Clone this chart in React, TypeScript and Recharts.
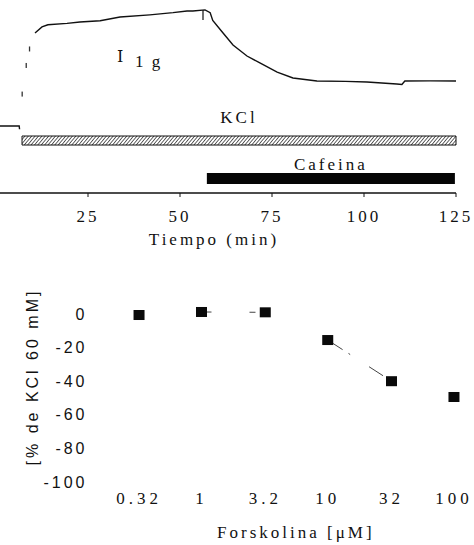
import {
  ComposedChart,
  Label,
  Line,
  ReferenceArea,
  ReferenceLine,
  Scatter,
  XAxis,
  YAxis,
} from 'recharts';

// Panel superior: registro de tension (g) frente al tiempo (min)
const BASAL_T = [0, 6.3, 6.4];
const BASAL_G = [0, 0, -0.3];
// la subida rapida solo deja unas marcas sueltas en el registro
const SUBIDA_T = [7.1, 8.2, 9.1];
const SUBIDA_G = [2.9, 5.5, 7.0];
const TRAZO_T = [
  10.6, 12.5, 14.1, 19.3, 22.8, 28.3, 33.7, 41.8, 48.1, 51.9, 53.5, 56.8, 58.2, 58.9, 61.7, 64.4,
  68.2, 71.7, 76.4, 80.7, 87.2, 95, 100.8, 108.9, 110.3, 111.1, 118, 125,
];
const TRAZO_G = [
  8.45, 9.0, 9.2, 9.33, 9.45, 9.57, 9.9, 10.1, 10.3, 10.45, 10.45, 10.55, 10.3, 9.6, 8.45, 7.36,
  6.36, 5.73, 4.9, 4.36, 4.09, 4.05, 4.0, 3.82, 3.77, 4.09, 4.1, 4.09,
];
const MARCA_T = 56.25;
const MARCA_G = [10.55, 9.64];

const KCL_T = [7.07, 125];
const KCL_G = [-0.91, -1.73];
const CAFEINA_T = [57.3, 124.7];
const CAFEINA_G = [-4.27, -5.27];

const TIEMPO_TICKS = [0, 25, 50, 75, 100, 125];

// Panel inferior: respuesta a forskolina
const CONC = [0.32, 1, 3.2, 10, 32, 100];
const RESP = [-0.6, 1.2, 1.0, -15.5, -40, -49.4];
const RESP_TICKS = [0, -20, -40, -60, -80, -100];

const SERIF = '"Liberation Serif", "DejaVu Serif", serif';
const SANS = '"Liberation Sans", Arial, sans-serif';

const toSeries = (ts: number[], gs: number[]) => ts.map((t, i) => ({ t, g: gs[i] }));

// basal y trazo en una sola serie, con un hueco (null) donde el registro se pierde
const registro = [
  ...toSeries(BASAL_T, BASAL_G),
  { t: (BASAL_T[BASAL_T.length - 1] + TRAZO_T[0]) / 2, g: null },
  ...toSeries(TRAZO_T, TRAZO_G),
];
const subida = toSeries(SUBIDA_T, SUBIDA_G);

const puntos = CONC.map((conc, i) => ({ conc, resp: RESP[i] }));
const tramoA = puntos.slice(1, 3);
const tramoB = puntos.slice(3, 5);

const serifText = { fontFamily: SERIF, fontSize: 17, fill: '#111', letterSpacing: 3 };

function Cuadro(props: any) {
  const { cx, cy } = props;
  if (cx == null || cy == null) return null;
  return <rect x={cx - 5.5} y={cy - 5} width={11} height={10} fill="#0a0a0a" />;
}

function Marca(props: any) {
  const { cx, cy } = props;
  if (cx == null || cy == null) return null;
  return <rect x={cx - 0.6} y={cy - 2.5} width={1.3} height={5} fill="#333" />;
}

export default function App() {
  return (
    <div
      style={{
        position: 'absolute',
        left: 0,
        top: 0,
        width: 474,
        height: 545,
        overflow: 'hidden',
        background: '#fff',
      }}
    >
      <div style={{ position: 'absolute', left: -4, top: 0 }}>
        <ComposedChart width={478} height={255} margin={{ top: 0, right: 18, bottom: 0, left: 0 }}>
          <defs>
            <pattern id="rayado" width="2.6" height="2.6" patternUnits="userSpaceOnUse" patternTransform="rotate(40)">
              <line x1="0" y1="0" x2="0" y2="2.6" stroke="#1a1a1a" strokeWidth="1.35" />
            </pattern>
          </defs>
          <XAxis
            dataKey="t"
            type="number"
            domain={[0, 125]}
            ticks={TIEMPO_TICKS}
            height={62}
            axisLine={{ stroke: '#111', strokeWidth: 1.3 }}
            tickLine={{ stroke: '#111' }}
            tickSize={4}
            tickMargin={13}
            tick={serifText}
          >
            <Label value="Tiempo (min)" position="insideBottom" offset={10} dx={-12} style={serifText} />
          </XAxis>
          <YAxis type="number" domain={[-6.09, 11.45]} hide />
          <ReferenceArea
            x1={KCL_T[0]}
            x2={KCL_T[1]}
            y1={KCL_G[0]}
            y2={KCL_G[1]}
            fill="url(#rayado)"
            fillOpacity={1}
            stroke="#111"
            strokeWidth={1}
          >
            <Label value="KCl" position="top" offset={13} style={serifText} />
          </ReferenceArea>
          <ReferenceArea
            x1={CAFEINA_T[0]}
            x2={CAFEINA_T[1]}
            y1={CAFEINA_G[0]}
            y2={CAFEINA_G[1]}
            fill="#050505"
            fillOpacity={1}
          >
            <Label value="Cafeina" position="top" offset={3} style={serifText} />
          </ReferenceArea>
          <ReferenceLine
            segment={[
              { x: MARCA_T, y: MARCA_G[0] },
              { x: MARCA_T, y: MARCA_G[1] },
            ]}
            stroke="#111"
            strokeWidth={1.2}
          />
          <Scatter data={subida} dataKey="g" shape={Marca} isAnimationActive={false} />
          <Line
            data={registro}
            dataKey="g"
            stroke="#111"
            strokeWidth={1.4}
            dot={false}
            activeDot={false}
            connectNulls={false}
            isAnimationActive={false}
          />
        </ComposedChart>
      </div>

      <div
        style={{
          position: 'absolute',
          left: 33,
          top: 377,
          transform: 'translate(-50%, -50%) rotate(-90deg)',
          whiteSpace: 'nowrap',
          fontFamily: SANS,
          fontSize: 16,
          letterSpacing: 3,
          color: '#111',
        }}
      >
        [% de KCl 60 mM]
      </div>

      <div style={{ position: 'absolute', left: 117, top: 47, fontFamily: '"DejaVu Serif", serif', fontSize: 16, color: '#111' }}>
        I
      </div>
      <div
        style={{
          position: 'absolute',
          left: 135,
          top: 52,
          fontFamily: SERIF,
          fontSize: 17,
          letterSpacing: 2,
          color: '#111',
          whiteSpace: 'pre',
        }}
      >
        1 g
      </div>

      <div style={{ position: 'absolute', left: 0, top: 290 }}>
        <ComposedChart width={474} height={255} margin={{ top: 7.2, right: 7.8, bottom: 0, left: 25.5 }}>
          <XAxis
            dataKey="conc"
            type="number"
            scale="log"
            domain={[0.25, 125]}
            ticks={CONC}
            allowDataOverflow
            height={63}
            axisLine={false}
            tickLine={false}
            tickSize={4}
            tickMargin={6}
            tick={{ ...serifText, letterSpacing: 4 }}
          >
            <Label value="Forskolina [μM]" position="insideBottom" offset={7} style={serifText} />
          </XAxis>
          <YAxis
            dataKey="resp"
            type="number"
            domain={[-100, 10]}
            ticks={RESP_TICKS}
            width={100}
            axisLine={false}
            tickLine={false}
            tickSize={36}
            tickMargin={2}
            tick={{ fontFamily: SANS, fontSize: 16, fill: '#111', letterSpacing: 3 }}
          />
          <Line
            data={tramoA}
            dataKey="resp"
            stroke="#444"
            strokeWidth={1}
            strokeDasharray="10 38 6 100"
            dot={false}
            activeDot={false}
            isAnimationActive={false}
          />
          <Line
            data={tramoB}
            dataKey="resp"
            stroke="#444"
            strokeWidth={1}
            strokeDasharray="17.7 7 2 22.5 16.6 100"
            dot={false}
            activeDot={false}
            isAnimationActive={false}
          />
          <Scatter data={puntos} dataKey="resp" shape={Cuadro} isAnimationActive={false} />
        </ComposedChart>
      </div>
    </div>
  );
}
